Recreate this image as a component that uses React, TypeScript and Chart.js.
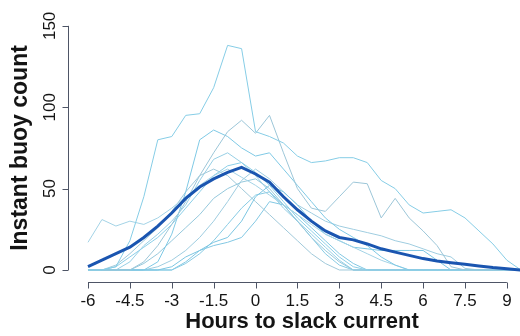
import { useEffect, useRef } from "react";
import { Chart, registerables } from "chart.js";

Chart.register(...registerables);

// Half-hour steps relative to slack current
const hours = [
  -6, -5.5, -5, -4.5, -4, -3.5, -3, -2.5, -2, -1.5, -1, -0.5, 0, 0.5, 1, 1.5,
  2, 2.5, 3, 3.5, 4, 4.5, 5, 5.5, 6, 6.5, 7, 7.5, 8, 8.5, 9, 9.5,
];

const xTickValues = [-6, -4.5, -3, -1.5, 0, 1.5, 3, 4.5, 6, 7.5, 9];
const yTickValues = [0, 50, 100, 150];

// Individual tide cycles
const cycle1 = [0, 0, 2, 18, 45, 80, 82, 95, 96, 112, 138, 136, 85, 82, 78, 70, 66, 67, 69, 69, 66, 55, 50, 40, 35, 36, 37, 32, 24, 16, 6, 0];
const cycle2 = [0, 0, 0, 0, 5, 15, 28, 42, 58, 72, 85, 92, 84, 95, 72, 50, 38, 36, 45, 54, 53, 32, 44, 32, 24, 15, 2, 0, 0, 0, 0, 0];
const cycle3 = [0, 0, 0, 0, 0, 5, 22, 48, 80, 86, 82, 75, 70, 72, 62, 52, 42, 32, 25, 20, 15, 8, 3, 0, 0, 0, 0, 0, 0, 0, 0, 0];
const cycle4 = [17, 31, 27, 30, 28, 32, 38, 45, 52, 58, 62, 57, 52, 46, 40, 34, 28, 22, 18, 14, 10, 6, 3, 0, 0, 0, 0, 0, 0, 0, 0, 0];
const cycle5 = [0, 0, 2, 8, 14, 20, 28, 38, 48, 58, 64, 66, 60, 52, 42, 32, 24, 16, 8, 2, 0, 0, 0, 0, 0, 0, 0, 0, 0, 0, 0, 0];
const cycle6 = [0, 0, 0, 0, 4, 10, 18, 26, 34, 44, 50, 54, 56, 50, 40, 30, 20, 12, 5, 0, 0, 0, 0, 0, 0, 0, 0, 0, 0, 0, 0, 0];
const cycle7 = [0, 0, 0, 0, 0, 0, 2, 8, 12, 17, 20, 30, 45, 52, 48, 40, 30, 22, 18, 14, 13, 12, 12, 12, 12, 6, 0, 0, 0, 0, 0, 0];
const cycle8 = [0, 0, 0, 0, 0, 2, 6, 12, 20, 30, 42, 55, 62, 56, 48, 40, 35, 30, 27, 25, 23, 21, 18, 16, 13, 10, 8, 1, 0, 0, 0, 0];
const cycle9 = [0, 0, 0, 0, 0, 0, 0, 4, 10, 18, 28, 38, 46, 48, 40, 30, 20, 10, 3, 0, 0, 0, 0, 0, 0, 0, 0, 0, 0, 0, 0, 0];
const cycle10 = [0, 0, 3, 10, 18, 26, 36, 48, 58, 62, 58, 50, 42, 34, 26, 18, 10, 4, 0, 0, 0, 0, 0, 0, 0, 0, 0, 0, 0, 0, 0, 0];
const cycle11 = [0, 0, 0, 0, 0, 0, 0, 5, 12, 15, 17, 20, 30, 42, 40, 34, 26, 18, 10, 4, 0, 0, 0, 0, 0, 0, 0, 0, 0, 0, 0, 0];
const cycle12 = [0, 0, 0, 5, 15, 22, 30, 40, 55, 68, 72, 66, 58, 48, 38, 30, 22, 14, 6, 0, 0, 0, 0, 0, 0, 0, 0, 0, 0, 0, 0, 0];

// Average over all cycles
const meanCount = [2, 6, 10, 14, 20, 27, 35, 44, 51, 56, 60, 63, 59, 54, 45, 37, 30, 24, 20, 18.5, 16, 13, 11, 9, 7, 5.5, 4.5, 3.5, 2.5, 1.5, 0.7, 0];

const cycles = [cycle1, cycle2, cycle3, cycle4, cycle5, cycle6, cycle7, cycle8, cycle9, cycle10, cycle11, cycle12];
const cycleColors = ["#86cde6", "#9cc6d8", "#7fc9e5", "#a3d3e6", "#8ccfe8", "#95c8dc", "#7cc6e2", "#9fcde0", "#88cbe4", "#a0c9da", "#83c8e3", "#97cfe5"];

const xTitle = "Hours to slack current";
const yTitle = "Instant buoy count";

const AXIS_COLOR = "#4e5566";
const TEXT_COLOR = "#141414";
const TICK_FONT = '17px "Liberation Sans", Arial, sans-serif';
const TITLE_FONT = 'bold 22px "Liberation Sans", Arial, sans-serif';

const toPoints = (ys: number[]) => hours.map((h, i) => ({ x: h, y: ys[i] }));

// Axes drawn in base-graphics style: lines span first to last tick only
const baseAxes = {
  id: "baseAxes",
  afterDraw(chart: any) {
    const { ctx, scales, chartArea } = chart;
    const xs = scales.x;
    const ys = scales.y;
    ctx.save();
    ctx.strokeStyle = AXIS_COLOR;
    ctx.lineWidth = 1;

    // y axis
    const ax = Math.round(chartArea.left) - 0.5;
    const y0 = ys.getPixelForValue(yTickValues[0]);
    const y1 = ys.getPixelForValue(yTickValues[yTickValues.length - 1]);
    ctx.beginPath();
    ctx.moveTo(ax, y0);
    ctx.lineTo(ax, y1);
    yTickValues.forEach((v) => {
      const p = Math.round(ys.getPixelForValue(v)) + 0.5;
      ctx.moveTo(ax, p);
      ctx.lineTo(ax - 6, p);
    });
    ctx.stroke();

    // x axis
    const ay = Math.round(chartArea.bottom) + 0.5;
    const x0 = xs.getPixelForValue(xTickValues[0]);
    const x1 = xs.getPixelForValue(xTickValues[xTickValues.length - 1]);
    ctx.beginPath();
    ctx.moveTo(x0, ay);
    ctx.lineTo(x1, ay);
    xTickValues.forEach((v) => {
      const p = Math.round(xs.getPixelForValue(v)) + 0.5;
      ctx.moveTo(p, ay);
      ctx.lineTo(p, ay + 6);
    });
    ctx.stroke();

    // tick labels
    ctx.fillStyle = TEXT_COLOR;
    ctx.font = TICK_FONT;
    ctx.textAlign = "center";
    ctx.textBaseline = "middle";
    xTickValues.forEach((v) => {
      ctx.fillText(String(v), xs.getPixelForValue(v), ay + 19);
    });
    yTickValues.forEach((v) => {
      ctx.save();
      ctx.translate(ax - 18, ys.getPixelForValue(v));
      ctx.rotate(-Math.PI / 2);
      ctx.fillText(String(v), 0, 0);
      ctx.restore();
    });

    // titles
    ctx.font = TITLE_FONT;
    ctx.fillText(xTitle, 302, ay + 39);
    ctx.save();
    ctx.translate(21, 148);
    ctx.rotate(-Math.PI / 2);
    ctx.font = 'bold 23px "Liberation Sans", Arial, sans-serif';
    ctx.fillText(yTitle, 0, 0);
    ctx.restore();
    ctx.restore();
  },
};

export default function App() {
  const canvasRef = useRef<HTMLCanvasElement | null>(null);

  useEffect(() => {
    const canvas = canvasRef.current;
    if (!canvas) return;

    const datasets: any[] = [
      {
        data: toPoints(meanCount),
        borderColor: "#1a55b0",
        borderWidth: 3,
        pointRadius: 0,
        tension: 0,
      },
      ...cycles.map((c, i) => ({
        data: toPoints(c),
        borderColor: cycleColors[i % cycleColors.length],
        borderWidth: 1,
        pointRadius: 0,
        tension: 0,
      })),
    ];

    const chart = new Chart(canvas, {
      type: "line",
      data: { datasets },
      options: {
        animation: false,
        responsive: false,
        devicePixelRatio: 1,
        layout: { padding: { top: 20, right: 0, bottom: 0, left: 0 } },
        plugins: { legend: { display: false }, tooltip: { enabled: false } },
        scales: {
          x: {
            type: "linear",
            min: -6.68,
            max: 9.47,
            grid: { display: false },
            border: { display: false },
            ticks: { display: false },
            afterFit: (s: any) => {
              s.height = 54;
            },
          },
          y: {
            type: "linear",
            min: -7.38,
            max: 153.6,
            grid: { display: false },
            border: { display: false },
            ticks: { display: false },
            afterFit: (s: any) => {
              s.width = 69;
            },
          },
        },
      },
      plugins: [baseAxes],
    });

    return () => chart.destroy();
  }, []);

  return (
    <div style={{ position: "absolute", left: 0, top: 0, width: 520, height: 336, background: "#fff" }}>
      <canvas ref={canvasRef} width={520} height={336} />
    </div>
  );
}
